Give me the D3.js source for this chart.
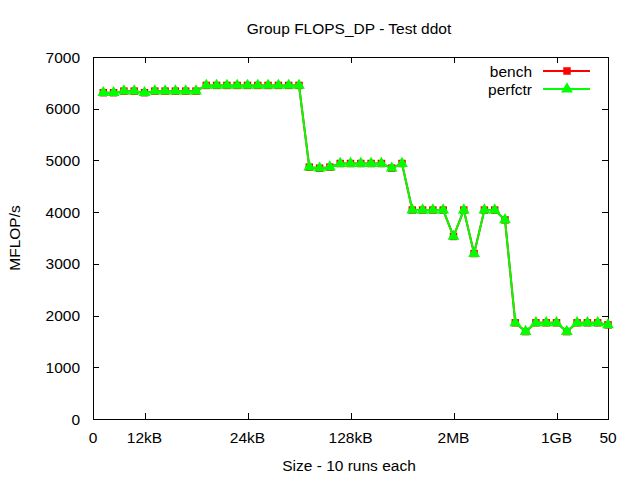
<!DOCTYPE html>
<html><head><meta charset="utf-8">
<script src="https://cdn.jsdelivr.net/npm/d3@7"></script>
<style>
body{margin:0;background:#fff;}
text{font-family:"Liberation Sans",Arial,sans-serif;font-size:15.5px;fill:#000;}
</style></head><body>
<svg id="c" width="640" height="480"></svg>
<script>
const title = "Group FLOPS_DP - Test ddot";
const xLabel = "Size - 10 runs each";
const yLabel = "MFLOP/s";
const xs = d3.range(1, 51);
const benchValues = [
  6310,6310,6340,6340,6310,6340,6340,6340,6340,6340,
  6450,6450,6450,6450,6450,6450,6450,6450,6450,6450,
  4870,4850,4870,4940,4940,4940,4940,4940,4850,4940,
  4040,4040,4040,4040,3530,4040,3200,4040,4040,3850,
  1860,1690,1860,1860,1860,1690,1860,1860,1860,1820];
const perfctrValues = benchValues.slice();
const xTickValues = [0,5,15,25,35,45,50];
const xTickLabels = ["0","12kB","24kB","128kB","2MB","1GB","50"];
const yTickValues = [0,1000,2000,3000,4000,5000,6000,7000];
const seriesNames = ["bench","perfctr"];
const seriesColors = ["#ff0000","#00ff00"];

const svg = d3.select("#c");
const L=93,R=608,T=57,B=419;
const x = d3.scaleLinear().domain([0,50]).range([L,R]);
const y = d3.scaleLinear().domain([0,7000]).range([B,T]);

const tk = 6;
const g = svg.append("g").attr("stroke","#000").attr("stroke-width",1).attr("shape-rendering","crispEdges");
xTickValues.forEach(v=>{
  const px = Math.round(x(v))+0.5;
  g.append("line").attr("x1",px).attr("x2",px).attr("y1",B).attr("y2",B-tk);
  g.append("line").attr("x1",px).attr("x2",px).attr("y1",T).attr("y2",T+tk);
});
yTickValues.forEach(v=>{
  const py = Math.round(y(v))+0.5;
  g.append("line").attr("x1",L).attr("x2",L+tk).attr("y1",py).attr("y2",py);
  g.append("line").attr("x1",R).attr("x2",R-tk).attr("y1",py).attr("y2",py);
});
g.append("rect").attr("x",L+0.5).attr("y",T+0.5).attr("width",R-L).attr("height",B-T).attr("fill","none");

xTickValues.forEach((v,i)=>{
  svg.append("text").attr("x",x(v)).attr("y",443).attr("text-anchor","middle").text(xTickLabels[i]);
});
yTickValues.forEach(v=>{
  svg.append("text").attr("x",80).attr("y",y(v)+5.5).attr("text-anchor","end").text(v);
});
svg.append("text").attr("x",349).attr("y",34).attr("text-anchor","middle").text(title);
svg.append("text").attr("x",349).attr("y",471).attr("text-anchor","middle").text(xLabel);
svg.append("text").attr("transform","translate(20,238) rotate(-90)").attr("text-anchor","middle").text(yLabel);

const line = d3.line().x((d,i)=>x(xs[i])).y(d=>y(d));
const sq = d3.symbol().type(d3.symbolSquare).size(56);
const tri = d3.symbol().type(d3.symbolTriangle).size(60);
function drawSeries(vals, color, sym){
  svg.append("path").datum(vals).attr("d",line).attr("fill","none").attr("stroke",color).attr("stroke-width",2);
  svg.append("g").selectAll("path").data(vals).join("path")
    .attr("transform",(d,i)=>`translate(${x(xs[i])},${y(d)})`).attr("d",sym).attr("fill",color);
}
drawSeries(benchValues, seriesColors[0], sq);
drawSeries(perfctrValues, seriesColors[1], tri);

const legY=[71,89];
seriesNames.forEach((n,i)=>{
  svg.append("text").attr("x",532).attr("y",legY[i]+5.5).attr("text-anchor","end").text(n);
  svg.append("line").attr("x1",543).attr("x2",590).attr("y1",legY[i]).attr("y2",legY[i]).attr("stroke",seriesColors[i]).attr("stroke-width",2);
  svg.append("path").attr("transform",`translate(567,${legY[i]})`).attr("d",i===0?sq():tri()).attr("fill",seriesColors[i]);
});
</script></body></html>
